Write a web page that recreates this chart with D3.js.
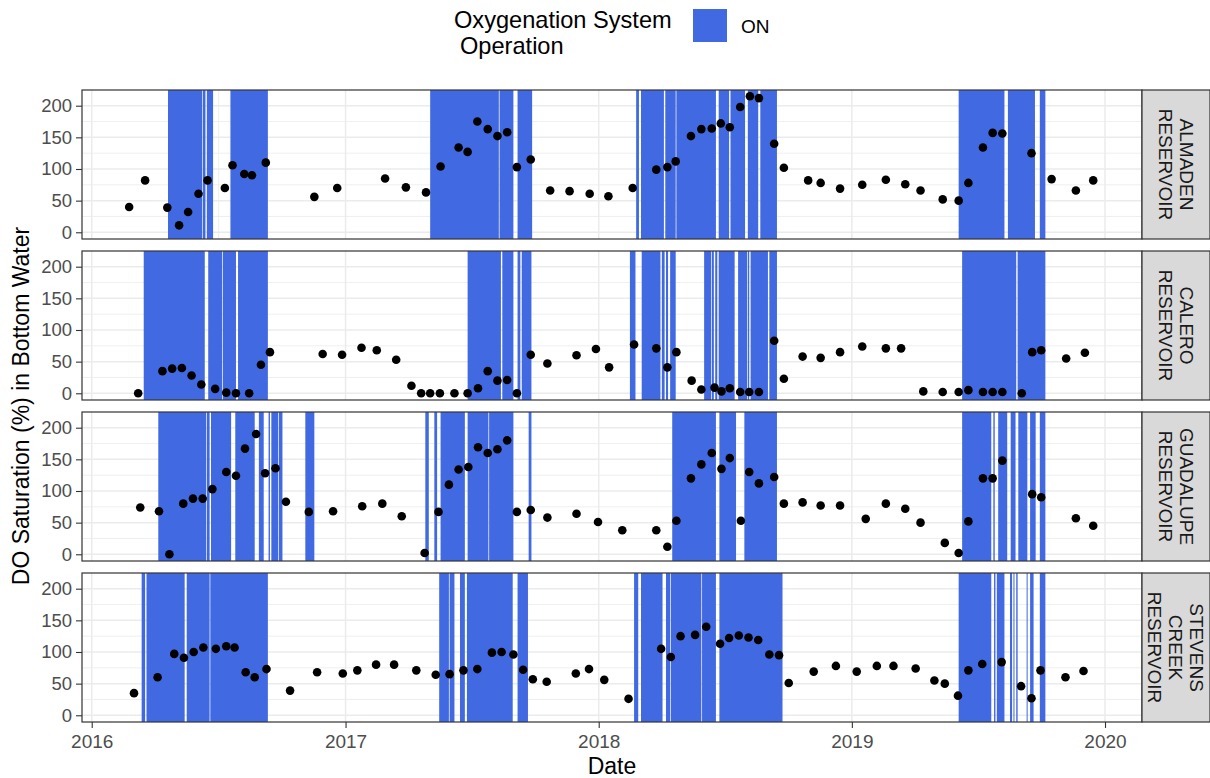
<!DOCTYPE html>
<html>
<head>
<meta charset="utf-8">
<script src="https://cdn.jsdelivr.net/npm/d3@7"></script>
<style>
    body {margin: 0; background: #fff;}
    svg text {font-family: "Liberation Sans", Arial, sans-serif;}
</style>
</head>
<body>
<div id="chart"></div>
<script>
// panel labels (strip text)
var reservoirs = ["ALMADEN RESERVOIR", "CALERO RESERVOIR", "GUADALUPE RESERVOIR", "STEVENS CREEK RESERVOIR"];

// ALMADEN
var almadenDates = ["2016-02-24","2016-03-18","2016-04-19","2016-05-06","2016-05-19","2016-06-03","2016-06-16","2016-07-11","2016-07-22","2016-08-08",
    "2016-08-19","2016-09-08","2016-11-17","2016-12-20","2017-02-27","2017-03-29","2017-04-27","2017-05-18","2017-06-13","2017-06-26",
    "2017-07-10","2017-07-25","2017-08-08","2017-08-22","2017-09-05","2017-09-25","2017-10-23","2017-11-20","2017-12-19","2018-01-15",
    "2018-02-19","2018-03-25","2018-04-10","2018-04-22","2018-05-14","2018-05-29","2018-06-13","2018-06-26","2018-07-09","2018-07-24",
    "2018-08-07","2018-08-20","2018-09-11","2018-09-25","2018-10-30","2018-11-17","2018-12-15","2019-01-16","2019-02-19","2019-03-19",
    "2019-04-10","2019-05-12","2019-06-04","2019-06-18","2019-07-09","2019-07-23","2019-08-06","2019-09-17","2019-10-16","2019-11-20","2019-12-15"];
var almadenDO = [40,82,39,11,32,61,82,70,106,92, 90,110,56,70,85,71,63,104,134,127, 175,163,152,158,103,115,66,65,61,57,
    70,99,103,112,152,163,164,172,166,198, 215,212,140,102,82,78,69,75,83,76, 66,52,50,78,134,157,156,125,84,66,82];
var almadenOn = [["2016-04-20","2016-06-08"],["2016-06-09","2016-06-13"],["2016-06-15","2016-06-24"],["2016-07-19","2016-09-11"],
    ["2017-05-03","2017-08-10"],["2017-08-11","2017-08-31"],["2017-09-06","2017-09-27"],
    ["2018-02-24","2018-02-28"],["2018-03-03","2018-04-05"],["2018-04-07","2018-04-22"],["2018-04-23","2018-06-19"],["2018-06-23","2018-07-08"],
    ["2018-07-10","2018-07-31"],["2018-08-04","2018-08-19"],["2018-08-22","2018-09-15"],
    ["2019-06-04","2019-08-09"],["2019-08-14","2019-09-22"],["2019-09-29","2019-10-07"]];

// CALERO
var caleroDates = ["2016-03-08","2016-04-12","2016-04-26","2016-05-10","2016-05-24","2016-06-07","2016-06-27","2016-07-13","2016-07-27","2016-08-15",
    "2016-09-01","2016-09-14","2016-11-29","2016-12-27","2017-01-24","2017-02-15","2017-03-15","2017-04-06","2017-04-20","2017-05-03",
    "2017-05-17","2017-06-07","2017-06-26","2017-07-11","2017-07-25","2017-08-08","2017-08-22","2017-09-05","2017-09-25","2017-10-19",
    "2017-11-30","2017-12-28","2018-01-16","2018-02-21","2018-03-25","2018-04-10","2018-04-23","2018-05-15","2018-05-29","2018-06-17",
    "2018-06-27","2018-07-09","2018-07-24","2018-08-06","2018-08-20","2018-09-11","2018-09-25","2018-10-22","2018-11-17","2018-12-15",
    "2019-01-16","2019-02-19","2019-03-13","2019-04-14","2019-05-12","2019-06-04","2019-06-18","2019-07-09","2019-07-23","2019-08-06",
    "2019-09-03","2019-09-18","2019-10-01","2019-11-06","2019-12-03"];
var caleroDO = [0,35,39,40,28,14,7,1,0,0, 45,65,62,61,72,68,53,12,0,0, 0,0,0,8,35,20,21,0,61,47,
    60,70,41,77,71,41,65,20,6,9, 3,8,2,2,2,83,23,58,56,65, 74,71,71,3,2,2,5,2,2,2, 0,65,68,55,64];
var caleroOn = [["2016-03-16","2016-06-12"],["2016-06-17","2016-07-07"],["2016-07-08","2016-07-27"],["2016-07-30","2016-09-11"],
    ["2017-06-26","2017-08-13"],["2017-08-15","2017-08-31"],["2017-09-06","2017-09-10"],["2017-09-12","2017-09-26"],
    ["2018-02-15","2018-02-23"],["2018-03-04","2018-03-31"],["2018-04-02","2018-04-06"],["2018-04-08","2018-04-11"],["2018-04-14","2018-04-22"],
    ["2018-06-02","2018-06-12"],["2018-06-13","2018-06-16"],["2018-06-18","2018-06-21"],["2018-06-23","2018-07-16"],["2018-07-21","2018-08-03"],
    ["2018-08-04","2018-08-06"],["2018-08-08","2018-09-02"],["2018-09-04","2018-09-15"],
    ["2019-06-09","2019-08-26"],["2019-08-28","2019-10-07"]];

// GUADALUPE
var guadalupeDates = ["2016-03-11","2016-04-07","2016-04-22","2016-05-12","2016-05-26","2016-06-09","2016-06-23","2016-07-13","2016-07-27","2016-08-09",
    "2016-08-25","2016-09-07","2016-09-22","2016-10-07","2016-11-09","2016-12-14","2017-01-25","2017-02-23","2017-03-23","2017-04-25",
    "2017-05-15","2017-05-30","2017-06-13","2017-06-27","2017-07-11","2017-07-25","2017-08-08","2017-08-22","2017-09-05","2017-09-25",
    "2017-10-19","2017-11-30","2017-12-31","2018-02-04","2018-03-25","2018-04-10","2018-04-23","2018-05-14","2018-05-29","2018-06-13",
    "2018-06-27","2018-07-09","2018-07-25","2018-08-06","2018-08-20","2018-09-11","2018-09-25","2018-10-22","2018-11-17","2018-12-15",
    "2019-01-21","2019-02-19","2019-03-19","2019-04-10","2019-05-15","2019-06-04","2019-06-18","2019-07-09","2019-07-23","2019-08-06",
    "2019-09-18","2019-10-01","2019-11-20","2019-12-15"];
var guadalupeDO = [74,68,0,80,88,88,103,130,124,167, 190,128,136,83,67,68,76,80,60,2, 67,110,134,138,169,160,166,180,67,70,
    58,64,51,38,38,12,53,120,142,160, 135,152,53,130,112,122,80,82,77,77, 56,80,72,50,18,2,52,120,120,148, 95,90,57,45];
var guadalupeOn = [["2016-04-06","2016-06-14"],["2016-06-15","2016-06-19"],["2016-06-21","2016-07-20"],["2016-07-26","2016-08-23"],
    ["2016-08-29","2016-09-05"],["2016-09-12","2016-09-14"],["2016-09-16","2016-09-26"],["2016-09-27","2016-10-02"],["2016-11-04","2016-11-17"],
    ["2017-04-26","2017-05-01"],["2017-05-09","2017-05-13"],["2017-05-18","2017-06-22"],["2017-06-26","2017-07-26"],["2017-07-27","2017-08-31"],
    ["2017-09-22","2017-09-26"],
    ["2018-04-17","2018-06-19"],["2018-06-24","2018-07-18"],["2018-07-30","2018-09-15"],
    ["2019-06-09","2019-07-21"],["2019-07-24","2019-07-26"],["2019-07-31","2019-08-13"],["2019-08-18","2019-08-25"],["2019-08-29","2019-09-11"],
    ["2019-09-15","2019-09-23"],["2019-09-29","2019-10-07"]];

// STEVENS CREEK
var stevensDates = ["2016-03-02","2016-04-05","2016-04-29","2016-05-13","2016-05-27","2016-06-10","2016-06-28","2016-07-13","2016-07-25","2016-08-10",
    "2016-08-23","2016-09-09","2016-10-13","2016-11-21","2016-12-28","2017-01-18","2017-02-14","2017-03-12","2017-04-13","2017-05-11",
    "2017-05-31","2017-06-20","2017-07-10","2017-07-31","2017-08-14","2017-08-31","2017-09-14","2017-09-28","2017-10-18","2017-11-29","2017-12-18",
    "2018-01-09","2018-02-13","2018-04-01","2018-04-15","2018-04-29","2018-05-20","2018-06-05","2018-06-25","2018-07-08",
    "2018-07-22","2018-08-05","2018-08-19","2018-09-04","2018-09-18","2018-10-02","2018-11-07","2018-12-09",
    "2019-01-08","2019-02-06","2019-03-02","2019-04-03","2019-04-30","2019-05-15","2019-06-03","2019-06-18","2019-07-08","2019-08-05",
    "2019-09-02","2019-09-17","2019-09-30","2019-11-05","2019-12-01"];
var stevensDO = [35,60,97,91,100,107,105,109,107,68, 60,73,39,68,66,71,80,80,71,64, 65,71,73,99,100,96,72,57,53,66,73,
    56,26,105,92,125,127,140,113,122, 126,123,119,96,95,51,69,78, 69,78,78,74,55,50,31,71,81,84,46,27,71,60,70];
var stevensOn = [["2016-03-13","2016-03-18"],["2016-03-20","2016-05-14"],["2016-05-17","2016-06-19"],["2016-06-20","2016-09-11"],
    ["2017-05-16","2017-05-30"],["2017-05-31","2017-06-07"],["2017-06-15","2017-06-22"],["2017-06-25","2017-08-30"],["2017-09-06","2017-09-21"],
    ["2018-02-21","2018-02-27"],["2018-03-03","2018-04-03"],["2018-04-08","2018-04-14"],["2018-04-15","2018-05-29"],["2018-05-30","2018-06-19"],
    ["2018-06-24","2018-09-23"],
    ["2019-06-04","2019-07-21"],["2019-07-25","2019-07-27"],["2019-07-29","2019-08-09"],["2019-08-17","2019-08-20"],["2019-08-22","2019-08-23"],
    ["2019-08-26","2019-08-28"],["2019-09-10","2019-09-11"],["2019-09-15","2019-09-20"],["2019-09-29","2019-10-07"]];

var yTicks = [0, 50, 100, 150, 200];
var yMinor = [25, 75, 125, 175];

//declaration basic things
var width = 1210, height = 778;
var margin = {top: 90, left: 82},
    panelW = 1060, panelH = 149, panelGap = 12, stripW = 68;
var onColor = "#4169E1";

var parseDate = d3.utcParse("%Y-%m-%d");

var panels = [
    {name: reservoirs[0], dates: almadenDates, values: almadenDO, on: almadenOn},
    {name: reservoirs[1], dates: caleroDates, values: caleroDO, on: caleroOn},
    {name: reservoirs[2], dates: guadalupeDates, values: guadalupeDO, on: guadalupeOn},
    {name: reservoirs[3], dates: stevensDates, values: stevensDO, on: stevensOn}
];

var svg = d3.select("#chart").append("svg")
    .attr("width", width)
    .attr("height", height);

//x-scale shared by all panels
var xScale = d3.scaleUtc()
    .domain([parseDate("2015-12-18"), new Date(Date.UTC(2020, 1, 23, 8))])
    .range([0, panelW]);
var yScale = d3.scaleLinear()
    .domain([-10.6, 224.8])
    .range([panelH, 0]);

var xMajor = xScale.ticks(d3.utcYear.every(1));
var xMinor = d3.pairs(xMajor).map(function (p) {
    return new Date((p[0].getTime() + p[1].getTime()) / 2);
});

panels.forEach(function (p, i) {
    var g = svg.append("g")
        .attr("transform", "translate(" + margin.left + "," + (margin.top + i * (panelH + panelGap)) + ")");

    //background + grid
    g.append("rect")
        .attr("width", panelW)
        .attr("height", panelH)
        .attr("fill", "#fff");
    g.selectAll(".ymin").data(yMinor).enter().append("line")
        .attr("x1", 0).attr("x2", panelW)
        .attr("y1", yScale).attr("y2", yScale)
        .attr("stroke", "#EBEBEB").attr("stroke-width", 0.8);
    g.selectAll(".xmin").data(xMinor).enter().append("line")
        .attr("x1", xScale).attr("x2", xScale)
        .attr("y1", 0).attr("y2", panelH)
        .attr("stroke", "#EBEBEB").attr("stroke-width", 0.8);
    g.selectAll(".ymaj").data(yTicks).enter().append("line")
        .attr("x1", 0).attr("x2", panelW)
        .attr("y1", yScale).attr("y2", yScale)
        .attr("stroke", "#EBEBEB").attr("stroke-width", 1.5);
    g.selectAll(".xmaj").data(xMajor).enter().append("line")
        .attr("x1", xScale).attr("x2", xScale)
        .attr("y1", 0).attr("y2", panelH)
        .attr("stroke", "#EBEBEB").attr("stroke-width", 1.5);

    //oxygenation ON periods
    g.selectAll(".on").data(p.on).enter().append("rect")
        .attr("x", function (d) { return xScale(parseDate(d[0])); })
        .attr("width", function (d) {
            return Math.max(1, xScale(parseDate(d[1])) - xScale(parseDate(d[0])));
        })
        .attr("y", 0)
        .attr("height", panelH)
        .attr("fill", onColor);

    //DO points
    g.selectAll(".pt").data(p.dates).enter().append("circle")
        .attr("cx", function (d) { return xScale(parseDate(d)); })
        .attr("cy", function (d, j) { return yScale(p.values[j]); })
        .attr("r", 4.3)
        .attr("fill", "#000");

    //panel border
    g.append("rect")
        .attr("width", panelW)
        .attr("height", panelH)
        .attr("fill", "none")
        .attr("stroke", "#333")
        .attr("stroke-width", 1.2);

    //y axis
    var yAxis = g.append("g")
        .call(d3.axisLeft(yScale).tickValues(yTicks).tickSize(6).tickPadding(4));
    yAxis.select(".domain").remove();
    yAxis.selectAll("line").attr("stroke", "#333").attr("stroke-width", 1.1);
    yAxis.selectAll("text").attr("fill", "#4D4D4D").style("font-size", "18.5px")
        .style("font-family", "'Liberation Sans', Arial, sans-serif");

    //strip on the right
    var strip = g.append("g").attr("transform", "translate(" + panelW + ",0)");
    strip.append("rect")
        .attr("width", stripW)
        .attr("height", panelH)
        .attr("fill", "#D9D9D9")
        .attr("stroke", "#333")
        .attr("stroke-width", 1.2);
    var words = p.name.split(" ");
    var lineH = 21;
    var st = strip.append("text")
        .attr("transform", "translate(" + (stripW / 2) + "," + (panelH / 2) + ") rotate(90)")
        .attr("text-anchor", "middle")
        .attr("fill", "#1A1A1A")
        .style("font-size", "19px");
    words.forEach(function (w, k) {
        st.append("tspan")
            .attr("x", 0)
            .attr("y", (k - (words.length - 1) / 2) * lineH)
            .attr("dy", "0.35em")
            .text(w);
    });

    //x axis only on the bottom panel
    if (i === panels.length - 1) {
        var xAxis = g.append("g")
            .attr("transform", "translate(0," + panelH + ")")
            .call(d3.axisBottom(xScale).tickValues(xMajor).tickFormat(d3.utcFormat("%Y")).tickSize(6).tickPadding(7));
        xAxis.select(".domain").remove();
        xAxis.selectAll("line").attr("stroke", "#333").attr("stroke-width", 1.1);
        xAxis.selectAll("text").attr("fill", "#4D4D4D").style("font-size", "19px")
            .style("font-family", "'Liberation Sans', Arial, sans-serif");
    }
});

//axis titles
var plotBottom = margin.top + 4 * panelH + 3 * panelGap;
svg.append("text")
    .attr("x", margin.left + panelW / 2)
    .attr("y", 774)
    .attr("text-anchor", "middle")
    .style("font-size", "23px")
    .text("Date");
svg.append("text")
    .attr("transform", "translate(29," + ((margin.top + plotBottom) / 2) + ") rotate(-90)")
    .attr("text-anchor", "middle")
    .style("font-size", "23px")
    .text("DO Saturation (%) in Bottom Water");

//legend
var legend = svg.append("g");
legend.append("text")
    .attr("x", 454).attr("y", 28)
    .style("font-size", "23.6px")
    .text("Oxygenation System");
legend.append("text")
    .attr("x", 460).attr("y", 54)
    .style("font-size", "23.6px")
    .text("Operation");
legend.append("rect")
    .attr("x", 693).attr("y", 9)
    .attr("width", 34).attr("height", 33)
    .attr("fill", onColor);
legend.append("text")
    .attr("x", 741).attr("y", 33)
    .style("font-size", "19px")
    .text("ON");
</script>
</body>
</html>
